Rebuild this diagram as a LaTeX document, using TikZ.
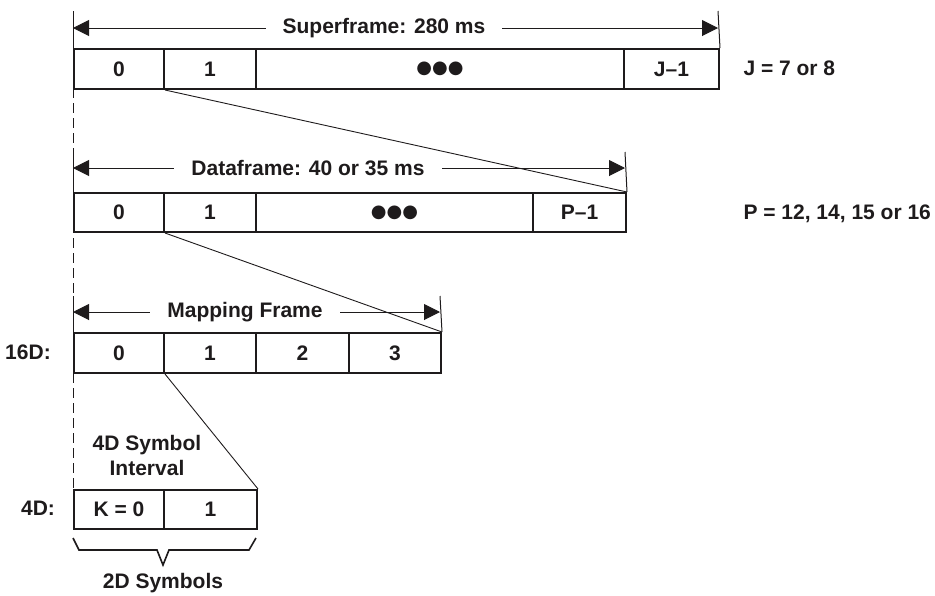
\documentclass[tikz,border=0pt]{standalone}
\usepackage{fontspec}
\setmainfont{Liberation Sans}
\newfontfamily\dejavu{DejaVu Sans}
\usetikzlibrary{arrows.meta}
\definecolor{ink}{RGB}{30,27,28}
\begin{document}
\begin{tikzpicture}[x=1pt,y=-1pt,
  font=\fontsize{21}{25}\selectfont\bfseries,
  every node/.style={text=ink},
  cell/.style={draw=ink, line width=2pt, minimum height=40pt, inner sep=0pt, anchor=north west},
  dim/.style={draw=ink, line width=1pt, {Triangle[length=16pt,width=16pt]}-{Triangle[length=16pt,width=16pt]}},
  tick/.style={draw=ink, line width=1pt},
  thin/.style={draw=ink, line width=0.9pt},
  dimlabel/.style={fill=white, inner xsep=17pt, inner ysep=2pt},
  side/.style={anchor=west},
  dots/.style={font=\dejavu\fontsize{18}{18}\selectfont}]
\useasboundingbox (0,0) rectangle (935,595);

% dashed reference line
\coordinate (dtop) at (73,88);
\coordinate (dbot) at (73,489);
\draw[ink, line width=1pt, dash pattern=on 10pt off 5pt] (dtop) -- (dbot);

% Superframe
\node[cell, minimum width=90pt]  (s0) at (73,48)  {0};
\node[cell, minimum width=92pt]  (s1) at (163,48) {1};
\node[cell, minimum width=368pt] (s2) at (255,48) {};
\node[dots] at (s2.center) {●●●};
\node[cell, minimum width=95pt]  (s3) at (623,48) {J–1};
\node[side] (jnote) at (740,68) {J = 7 or 8};
\coordinate (sL) at (73,11);
\coordinate (sR) at (718,11);
\draw[tick] (sL) -- (s0.north west);
\draw[tick] (sR) -- (s3.north east);
\coordinate (sAL) at (73,28);
\coordinate (sAR) at (718,28);
\draw[dim] (sAL) -- (sAR);
\node[dimlabel] (slab) at (384,28) {Superframe: 280 ms};

% Dataframe
\node[cell, minimum width=90pt, minimum height=39pt]  (d0) at (73,192)  {0};
\node[cell, minimum width=92pt, minimum height=39pt]  (d1) at (163,192) {1};
\node[cell, minimum width=277pt, minimum height=39pt] (d2) at (255,192) {};
\node[dots] at (d2.center) {●●●};
\node[cell, minimum width=93pt, minimum height=39pt]  (d3) at (532,192) {P–1};
\node[side] (pnote) at (740,214) {P = 12, 14, 15 or 16};
\coordinate (dL) at (73,152);
\coordinate (dR) at (625,152);
\draw[tick] (dL) -- (d0.north west);
\draw[tick] (dR) -- (d3.north east);
\coordinate (dAL) at (73,168);
\coordinate (dAR) at (625,168);
\draw[dim] (dAL) -- (dAR);
\node[dimlabel] (dlab) at (308,168) {Dataframe: 40 or 35 ms};

% Mapping frame
\node[cell, minimum width=90pt]  (m0) at (73,332)  {0};
\node[cell, minimum width=92pt]  (m1) at (163,332) {1};
\node[cell, minimum width=93pt]  (m2) at (255,332) {2};
\node[cell, minimum width=92pt]  (m3) at (348,332) {3};
\node (l16) at (28,352) {16D:};
\coordinate (mL) at (73,296);
\coordinate (mR) at (440,296);
\draw[tick] (mL) -- (m0.north west);
\draw[tick] (mR) -- (m3.north east);
\coordinate (mAL) at (73,312);
\coordinate (mAR) at (440,312);
\draw[dim] (mAL) -- (mAR);
\node[dimlabel] (mlab) at (245,312) {Mapping Frame};

% 4D
\node[cell, minimum width=90pt, minimum height=39pt] (f0) at (73,489)  {K = 0};
\node[cell, minimum width=93pt, minimum height=39pt] (f1) at (163,489) {1};
\node (l4) at (38,508) {4D:};
\node[align=center, font=\fontsize{21}{25}\selectfont\bfseries] (sym) at (147,455) {4D Symbol\\Interval};

% zoom diagonals
\draw[thin] (s0.south east) -- (d3.north east);
\draw[thin] (d0.south east) -- (m3.north east);
\draw[thin] (m0.south east) -- (f1.north east);

% brace
\coordinate (b1) at (73,538);
\coordinate (b2) at (79,550);
\coordinate (b3) at (157,550);
\coordinate (b4) at (163,565);
\coordinate (b5) at (169,550);
\coordinate (b6) at (249,550);
\coordinate (b7) at (256,538);
\draw[ink, line width=1.6pt, line join=miter] (b1) -- (b2) -- (b3) -- (b4) -- (b5) -- (b6) -- (b7);
\node (two) at (163,583) {2D Symbols};
\end{tikzpicture}
\end{document}
